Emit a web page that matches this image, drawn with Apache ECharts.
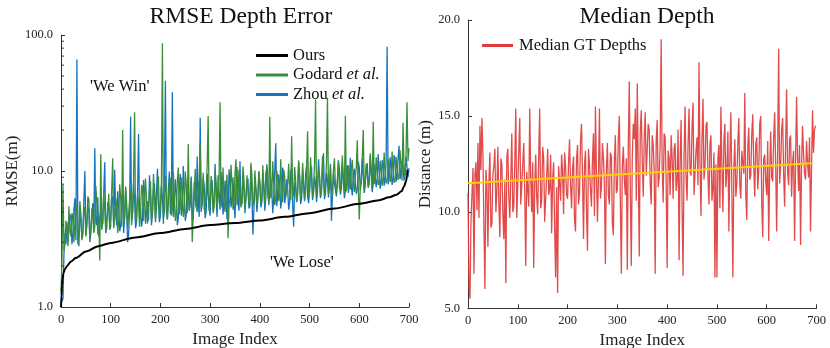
<!DOCTYPE html>
<html>
<head>
<meta charset="utf-8">
<script src="https://cdn.jsdelivr.net/npm/echarts@6/dist/echarts.min.js"></script>
<style>html,body{margin:0;padding:0;background:#fff}#c{width:830px;height:348px}</style>
</head>
<body>
<div id="c"></div>
<script>
// ---- data (image index step 2) ----
const STEP = 2;
const zhou = [
1.2,1.1,1.15,2.5,3.5,2.9,4.2,3.0,3.1,4.8,
4.6,2.9,3.4,5.2,6.3,3.1,66,3.3,2.8,4.9,
4.4,3.2,3.6,6.1,10,3.4,4.1,5.5,5.2,3.0,
3.5,4.7,5.8,3.6,14.7,4.2,4.0,6.4,3.3,4.5,
5.1,3.7,4.3,7.0,11.6,3.5,3.8,5.9,5.6,4.0,
4.5,6.6,6.2,3.9,10.2,4.9,4.0,7.1,5.4,3.6,
3.9,5.8,6.8,3.5,4.6,7.4,5.1,3.0,3.4,5.2,
25,4.3,4.8,8.2,6.1,3.8,4.2,6.9,18.7,4.4,
5.3,3.9,4.4,8.6,7.2,4.1,5.0,6.0,4.3,9.3,
6.5,4.0,4.9,7.3,8.1,4.5,4.6,10.4,5.8,4.2,
4.7,7.8,6.3,4.1,8.8,46,5.2,4.4,7.4,9.9,
4.8,6.0,38,4.6,5.5,8.7,6.9,4.0,4.5,7.6,
9.5,4.7,5.3,10.9,6.7,4.3,4.8,8.0,7.5,5.1,
5.6,9.1,4.9,4.4,8.3,6.3,5.4,12.8,6.0,4.6,
24.6,5.0,5.7,8.9,7.8,4.5,5.0,9.6,6.6,5.3,
4.7,8.1,8.6,5.2,5.8,11.3,6.4,4.6,9.3,6.9,
5.2,9.8,7.1,4.8,5.9,8.5,6.5,4.4,4.9,10.3,
8.4,5.4,6.2,9.0,5.6,4.5,7.7,10.7,6.0,5.1,
11.8,5.5,5.8,9.4,7.0,4.9,6.3,8.2,8.8,5.3,
5.5,9.9,6.9,3.4,5.2,8.6,7.3,5.0,6.1,10.0,
8.0,5.4,5.9,9.7,7.6,5.1,6.4,11.2,9.2,5.6,
5.7,8.9,7.1,4.9,6.5,10.1,16,5.5,6.8,9.4,
7.9,5.3,6.2,10.6,9.0,5.8,6.6,8.7,7.3,5.2,
5.9,9.8,10.5,5.6,3.9,8.3,7.5,5.9,6.7,11.6,
8.6,5.7,6.3,10.2,7.8,6.0,9.4,11.0,6.5,5.8,
7.2,10.4,10.8,6.1,6.9,9.1,8.1,5.9,7.0,12.2,
9.0,6.3,7.4,10.9,13.5,6.2,6.8,9.7,8.5,6.4,
7.6,11.3,4.3,6.6,9.6,8.2,7.3,6.5,8.0,12.0,
10.2,6.7,7.5,11.1,8.8,6.3,7.1,10.0,11.0,6.9,
8.3,12.5,7.7,6.6,9.5,10.4,8.0,6.8,7.4,11.7,
10.6,7.2,8.2,12.3,9.1,6.9,7.8,10.8,11.4,7.5,
8.6,12.9,9.3,7.0,8.0,11.2,11.5,7.6,8.7,13.3,
9.8,7.4,8.4,12.0,10.9,7.8,8.8,11.6,82,8.0,
9.2,12.6,10.4,7.9,8.9,13.1,11.8,8.3,9.5,12.4,
15.3,8.7,9.9,11.9,10.8,8.5,9.6,12.8,13.0,9.0,
10.5
];
const godard = [
1.3,2.2,7.9,2.6,2.9,4.3,3.8,2.8,5.5,3.6,
3.3,4.9,4.5,3.0,3.0,5.8,5.0,2.9,3.7,6.0,
4.8,3.1,3.4,5.1,5.4,3.3,4.0,6.5,6.2,3.2,
3.6,5.3,4.7,3.5,3.9,7.8,5.9,3.4,4.4,2.2,
13.3,3.8,4.1,6.9,5.3,3.6,4.4,5.0,6.8,3.7,
3.9,7.2,12.4,3.8,4.6,6.3,5.7,3.5,4.2,8.0,
6.4,3.9,20,4.1,4.5,7.7,5.9,3.8,4.8,6.2,
7.3,4.0,5.1,8.5,27,4.2,4.6,6.7,6.0,3.9,
5.0,7.9,7.6,4.3,4.4,8.8,6.3,4.1,5.5,7.1,
8.4,4.4,4.9,9.5,6.6,4.2,5.3,7.4,9.1,4.6,
5.6,8.2,87,4.5,5.0,9.3,7.0,4.4,5.8,8.0,
8.9,4.7,5.2,9.8,6.4,4.3,4.9,8.5,10.6,4.8,
5.7,9.0,7.2,4.6,5.1,9.9,8.0,4.9,15.8,5.2,
6.1,8.8,3.0,4.7,6.9,10.4,5.5,5.0,7.8,8.6,
16,5.3,6.0,9.7,5.3,4.8,7.4,10.9,25.4,5.1,
5.9,9.2,7.0,4.9,5.4,10.0,8.2,5.3,6.3,9.0,
32,5.4,6.7,10.6,5.6,5.0,7.5,9.4,3.2,5.5,
6.5,11.1,8.0,5.2,5.8,9.6,12.2,5.6,6.6,10.2,
7.3,5.4,5.9,10.8,8.7,5.3,6.2,9.3,7.0,5.7,
6.4,11.5,9.4,5.5,5.8,10.1,7.6,5.6,6.8,9.8,
8.3,5.8,6.1,11.0,7.4,5.7,9.7,10.5,6.5,5.9,
25,6.3,6.9,11.8,7.8,5.6,6.3,10.0,8.9,6.0,
6.7,12.2,7.7,5.9,10.2,9.1,6.4,6.2,8.1,11.3,
7.0,6.1,18,6.4,6.8,10.7,8.4,6.0,7.2,12.0,
9.3,6.3,6.9,11.5,8.0,6.1,7.3,10.4,19.6,6.5,
7.1,12.6,8.6,6.4,7.5,11.1,33.5,6.6,7.8,10.3,
9.2,6.5,6.9,12.9,8.4,6.7,7.7,11.4,34.5,6.8,
8.0,10.9,7.2,6.6,10.1,12.4,7.9,6.9,8.8,11.7,
7.6,7.0,9.6,13.0,8.1,6.9,25.5,7.1,8.5,11.0,
7.9,7.3,10.5,12.1,8.3,7.0,9.0,10.7,16.8,7.4,
4.4,7.6,8.7,12.8,20,7.2,8.4,11.3,9.4,7.7,
8.0,13.5,10.3,7.4,23,8.0,8.6,12.6,9.7,7.9,
8.2,11.9,10.0,7.8,8.9,13.7,9.5,8.1,8.6,12.2,
11.2,8.3,9.0,13.9,9.8,8.2,8.7,12.7,10.4,8.6,
9.3,14.2,11.0,8.5,22.6,10.2,9.1,13.4,32,11.8,
14.7
];
const oursIdx = [0,1,2,3,5,8,12,20,30,50,75,100,150,200,250,300,350,400,450,500,550,600,640,660,675,685,690,694,696,697];
const oursVal = [1.0,1.2,1.45,1.6,1.78,1.9,2.0,2.16,2.3,2.56,2.8,2.96,3.25,3.5,3.75,4.0,4.15,4.33,4.6,4.9,5.3,5.75,6.1,6.4,6.7,7.1,7.7,8.4,9.2,10.2];
const logMinor = [2,3,4,5,6,7,8,9,20,30,40,50,60,70,80,90];

const median = [
11.0,6.2,5.5,9.6,9.6,12.3,6.8,12.0,12.6,10.1,
13.6,9.7,14.5,12.2,14.9,13.0,9.3,6.0,12.2,11.4,
8.2,11.6,13.1,9.2,9.4,12.0,12.4,13.3,10.0,11.1,
13.4,10.5,8.7,12.8,12.5,9.9,8.6,11.7,6.3,12.9,
13.3,10.8,9.7,11.9,14.1,10.0,10.3,12.7,15.4,9.7,
9.8,13.2,14.9,10.4,10.5,12.5,13.6,11.0,7.2,12.1,
12.2,10.3,15.4,11.8,10.0,12.6,7.1,11.4,13.0,10.8,
9.9,12.9,15.4,10.2,10.6,13.4,12.8,9.5,9.6,11.9,
13.3,10.9,11.2,13.0,8.9,11.7,12.6,9.2,6.6,11.3,
5.8,12.4,11.5,10.6,13.0,12.1,9.9,13.1,12.4,10.9,
10.7,12.6,13.8,11.4,10.2,12.3,12.9,9.6,9.0,12.8,
13.5,10.4,11.0,13.7,14.6,11.9,8.6,12.5,13.2,10.1,
8.0,13.3,12.5,11.2,10.3,12.7,14.1,9.8,15.5,12.0,
9.5,11.8,15.4,10.7,11.3,13.6,12.8,11.5,7.3,12.2,
13.6,10.9,10.4,13.1,12.9,9.4,8.8,12.6,14.0,11.0,
11.2,13.9,15.0,10.6,6.8,12.4,13.4,11.7,10.9,12.8,
7.0,13.5,16.8,11.2,7.2,12.9,14.6,13.8,15.4,10.6,
16.7,12.3,7.7,14.2,15.3,12.7,10.8,13.9,15.2,11.9,
12.0,14.6,14.3,11.5,10.4,14.0,13.5,12.2,6.8,13.7,
14.8,11.3,11.8,13.6,19.0,12.4,10.5,14.1,13.9,11.6,
7.1,13.2,12.8,10.9,14.0,12.9,10.7,13.3,13.6,11.1,
11.6,14.3,7.5,12.6,14.8,10.2,6.7,13.0,15.5,11.8,
10.6,13.5,15.4,12.1,11.9,14.4,15.7,10.9,10.8,13.2,
13.9,11.4,17.8,12.6,9.8,13.8,15.9,11.7,12.3,14.5,
14.7,11.9,10.4,13.6,14.0,10.6,11.2,13.1,6.6,12.5,
6.6,12.8,13.5,10.2,15.5,12.4,10.0,13.7,14.6,11.3,
12.1,14.2,9.0,12.9,15.2,11.1,6.6,12.3,13.8,10.8,
11.5,13.6,14.9,11.4,10.7,13.2,13.1,12.0,16.2,10.9,
9.6,13.4,14.4,11.7,11.9,14.1,15.1,12.3,10.8,13.5,
13.9,11.2,12.2,14.6,15.0,10.5,8.7,12.8,13.0,11.6,
10.9,13.7,8.5,12.2,14.2,11.8,11.6,13.9,15.2,12.4,
9.0,13.3,18.5,11.5,12.4,14.3,14.9,12.0,10.3,13.6,
16.4,12.1,11.4,13.8,14.0,10.8,12.6,13.2,8.5,12.7,
16.0,12.9,11.1,13.5,8.3,12.4,14.5,13.0,12.0,11.7,
13.7,12.6,11.8,13.9,9.0,12.2,15.3,13.1,14.3,14.5
];
const trendIdx = [0, 692];
const trendVal = [11.5, 12.55];

// ---- chart ----
const FONT = "'Liberation Serif','DejaVu Serif',serif";
const AX = '#333';
const C_GREEN = '#3a8e3a', C_BLUE = '#1573c0', C_BLACK = '#000', C_RED = '#e03c3c', C_YEL = '#ffd000';
const toPairs = (arr) => arr.map((v, i) => [i * STEP, v]);
const zip = (a, b) => a.map((v, i) => [v, b[i]]);

const chart = echarts.init(document.getElementById('c'), null, {renderer: 'canvas'});

const axisCommon = {
  axisLine: {show: true, lineStyle: {color: AX, width: 1}},
  axisTick: {show: true, inside: true, length: 4, lineStyle: {color: AX}},
  axisLabel: {color: '#222', fontFamily: FONT, fontSize: 12.5},
  splitLine: {show: false},
  nameLocation: 'middle',
  nameTextStyle: {color: '#222', fontFamily: FONT, fontSize: 17}
};

chart.setOption({
  animation: false,
  backgroundColor: '#fff',
  title: [
    {text: 'RMSE Depth Error', left: 236, top: 0, textAlign: 'center',
     textStyle: {fontFamily: FONT, fontSize: 23.5, fontWeight: 'normal', color: '#111'}},
    {text: 'Median Depth', left: 642, top: 0, textAlign: 'center',
     textStyle: {fontFamily: FONT, fontSize: 23.5, fontWeight: 'normal', color: '#111'}}
  ],
  grid: [
    {left: 61, top: 35, width: 348, height: 272, containLabel: false, outerBoundsMode: 'none'},
    {left: 468, top: 20, width: 348.5, height: 288.3, containLabel: false, outerBoundsMode: 'none'}
  ],
  legend: [
    {orient: 'vertical', left: 251, top: 42, itemWidth: 32, itemHeight: 3, itemGap: 2.5,
     icon: 'rect', data: ['Ours', 'Godard et al.', 'Zhou et al.'],
     textStyle: {fontFamily: FONT, fontSize: 16.5, color: '#111', lineHeight: 16, padding: [0,0,0,0],
       rich: {i: {fontFamily: FONT, fontSize: 16.5, fontStyle: 'italic', color: '#111'}}},
     formatter: (n) => n.replace(' et al.', ' {i|et al.}')},
    {orient: 'vertical', left: 477, top: 32, itemWidth: 31, itemHeight: 3,
     icon: 'rect', data: ['Median GT Depths'],
     textStyle: {fontFamily: FONT, fontSize: 16.5, color: '#111', lineHeight: 16, padding: [0,0,0,1]}}
  ],
  xAxis: [
    Object.assign({}, axisCommon, {gridIndex: 0, type: 'value', min: 0, max: 700, interval: 100,
      name: 'Image Index', nameGap: 19,
      axisLabel: Object.assign({}, axisCommon.axisLabel, {margin: 6})}),
    Object.assign({}, axisCommon, {gridIndex: 1, type: 'value', min: 0, max: 700, interval: 100,
      name: 'Image Index', nameGap: 18,
      axisLabel: Object.assign({}, axisCommon.axisLabel, {margin: 6})})
  ],
  yAxis: [
    Object.assign({}, axisCommon, {gridIndex: 0, type: 'log', logBase: 10, min: 1, max: 100,
      name: 'RMSE(m)', nameGap: 39,
      axisLabel: Object.assign({}, axisCommon.axisLabel, {margin: 8, formatter: (v) => Number(v).toFixed(1)})}),
    Object.assign({}, axisCommon, {gridIndex: 1, type: 'value', min: 5, max: 20, interval: 5,
      name: 'Distance (m)', nameGap: 31,
      axisLabel: Object.assign({}, axisCommon.axisLabel, {margin: 8, formatter: (v) => Number(v).toFixed(1)})})
  ],
  graphic: [
    {type: 'text', left: 90, top: 78, style: {text: "'We Win'", fontFamily: FONT, fontSize: 16.5, fill: '#111'}},
    {type: 'text', left: 270, top: 254, style: {text: "'We Lose'", fontFamily: FONT, fontSize: 16.5, fill: '#111'}}
  ],
  series: [
    {name: 'Zhou et al.', type: 'line', xAxisIndex: 0, yAxisIndex: 0, data: toPairs(zhou),
     showSymbol: false, color: C_BLUE, lineStyle: {width: 1.3, color: C_BLUE}, z: 2},
    {name: 'Godard et al.', type: 'line', xAxisIndex: 0, yAxisIndex: 0, data: toPairs(godard),
     showSymbol: false, color: C_GREEN, lineStyle: {width: 1.3, color: C_GREEN}, z: 3},
    {name: 'Ours', type: 'line', xAxisIndex: 0, yAxisIndex: 0, data: zip(oursIdx, oursVal),
     showSymbol: false, smooth: 0.3, smoothMonotone: 'x', color: C_BLACK, lineStyle: {width: 2, color: C_BLACK}, z: 4},
    {name: 'minor', type: 'custom', xAxisIndex: 0, yAxisIndex: 0, silent: true, z: 5,
     data: logMinor.map((v) => [0, v]),
     renderItem: (params, api) => {
       const p = api.coord([0, api.value(1)]);
       return {type: 'line', shape: {x1: p[0], y1: p[1], x2: p[0] + 3, y2: p[1]},
               style: {stroke: AX, lineWidth: 1}};
     }},
    {name: 'Median GT Depths', type: 'line', xAxisIndex: 1, yAxisIndex: 1, data: toPairs(median),
     showSymbol: false, color: C_RED, lineStyle: {width: 1.3, color: C_RED, opacity: 0.92}, z: 2},
    {name: 'trend', type: 'line', xAxisIndex: 1, yAxisIndex: 1, data: zip(trendIdx, trendVal),
     showSymbol: false, color: C_YEL, lineStyle: {width: 2, color: C_YEL}, z: 3}
  ]
});
</script>
</body>
</html>
